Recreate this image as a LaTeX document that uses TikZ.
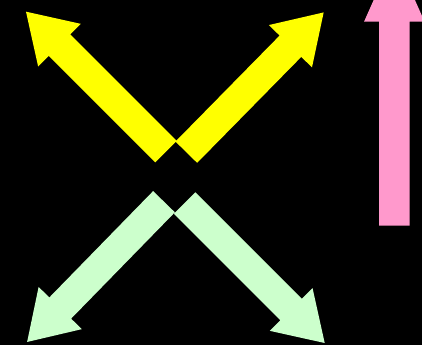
\documentclass[tikz,border=0pt]{standalone}
\usepackage{tikz}
\usetikzlibrary{shapes.arrows}
\definecolor{Lemon}{HTML}{FFFF00}
\definecolor{Mint}{HTML}{CCFFCC}
\definecolor{Rose}{HTML}{FF99CC}
\begin{document}
\begin{tikzpicture}[x=1pt, y=-1pt,
    fat/.style={single arrow, anchor=tail, minimum width=60pt, inner sep=15pt,
                outer sep=0pt, single arrow head extend=15pt,
                single arrow tip angle=65, draw=none},
    up/.style={fat, fill=Lemon},
    down/.style={fat, fill=Mint},
    rise/.style={fat, fill=Rose, single arrow tip angle=48}]
    \fill[black] (0,0) rectangle (422,345);
    \useasboundingbox (0,0) rectangle (422,345);
    \clip (0,0) rectangle (422,345);
    \node[up, minimum height=198pt, rotate=135]   (nw) at (166,151.7) {};
    \node[up, minimum height=196pt, rotate=45.5]  (ne) at (186.3,152.2) {};
    \node[down, minimum height=196pt, rotate=225.7] (sw) at (164,201.7) {};
    \node[down, minimum height=198pt, rotate=-45] (se) at (184.7,203) {};
    \node[rise, minimum height=272pt, rotate=90]  (rs) at (394.3,225.7) {};
  \end{tikzpicture}
\end{document}
